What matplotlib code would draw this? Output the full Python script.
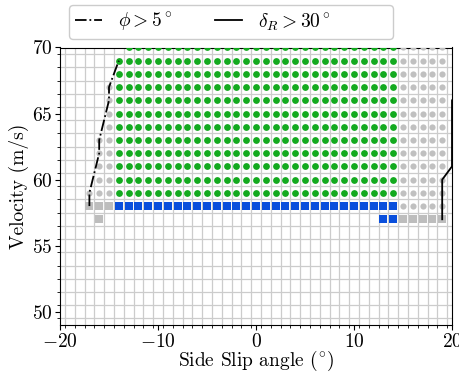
import matplotlib
matplotlib.use("Agg")
import matplotlib.pyplot as plt
from matplotlib.ticker import MultipleLocator
import numpy as np

plt.rcParams["font.family"] = "serif"
plt.rcParams["font.serif"] = ["cmr10", "DejaVu Serif"]
plt.rcParams["mathtext.fontset"] = "cm"
plt.rcParams["axes.formatter.use_mathtext"] = True
plt.rcParams["font.size"] = 14

# side slip columns and the velocity range of each category in that column
green_slip = list(range(-14, 15))
green_vmin = [59] * 29
green_vmax = [69] + [70] * 28

gray_dot_slip = [-17, -16, -15, 15, 16, 17, 18, 19]
gray_dot_vmin = [59, 59, 59, 58, 58, 58, 58, 58]
gray_dot_vmax = [59, 63, 67, 70, 70, 70, 70, 70]

blue_slip = list(range(-14, 15)) + [13, 14]
blue_vel = [58] * 29 + [57, 57]

gray_sq_slip = [-17, -16, -15, -16, 15, 16, 17, 18, 19]
gray_sq_vel = [58, 58, 58, 57, 57, 57, 57, 57, 57]

# boundary lines
phi_slip = [-17, -17, -16, -16, -15, -15, -14]
phi_vel = [58, 59, 62, 63, 66, 67, 69]
delta_slip = [19, 19, 20, 20, 21]
delta_vel = [57, 60, 61, 66, 67]


def expand(cols, vmin, vmax):
    xs, ys = [], []
    for c, lo, hi in zip(cols, vmin, vmax):
        for v in range(lo, hi + 1):
            xs.append(c)
            ys.append(v)
    return xs, ys


fig = plt.figure(figsize=(4.59, 3.74), dpi=100)
ax = fig.add_axes([60 / 459, 1 - 325 / 374, 392 / 459, 277.5 / 374])

gx, gy = expand(green_slip, green_vmin, green_vmax)
ax.scatter(gx, gy, s=24, color="#13aa1f", marker="o", linewidths=0, zorder=3)
dx, dy = expand(gray_dot_slip, gray_dot_vmin, gray_dot_vmax)
ax.scatter(dx, dy, s=20, color="#c0c0c0", marker="o", linewidths=0, zorder=3)
ax.scatter(blue_slip, blue_vel, s=26, color="#0a4fdc", marker="s", linewidths=0, zorder=3)
ax.scatter(gray_sq_slip, gray_sq_vel, s=40, color="#bdbdbd", marker="s", linewidths=0, zorder=3)

ax.plot(phi_slip, phi_vel, color="black", linestyle="-.", linewidth=1.3, zorder=4,
        label=r"$\phi{>}5^\circ$")
ax.plot(delta_slip, delta_vel, color="black", linestyle="-", linewidth=1.3, zorder=4,
        label=r"$\delta_R{>}30^\circ$" + " " * 9)

ax.set_xlim(-20, 20)
ax.set_ylim(49, 70)
ax.xaxis.set_major_locator(MultipleLocator(10))
ax.yaxis.set_major_locator(MultipleLocator(5))
ax.set_xticks(np.arange(-19.5, 20, 1), minor=True)
ax.set_yticks(np.arange(49.5, 70, 1), minor=True)
ax.grid(which="minor", color="#cccccc", linewidth=0.9, zorder=0)
ax.set_axisbelow(True)
ax.tick_params(labelsize=14, pad=2)

ax.set_xlabel(r"Side Slip angle (${}^{\circ}$)", fontsize=14, labelpad=-1)
ax.set_ylabel("Velocity (m/s)", fontsize=14, labelpad=2)

fig.legend(loc="upper left", bbox_to_anchor=(69 / 459, 1 - 5 / 374), borderaxespad=0,
           ncol=2, fontsize=14, handlelength=1.4, handletextpad=0.8,
           columnspacing=2.2, framealpha=1, borderpad=0.3)

fig.savefig("out.png", dpi=100)
